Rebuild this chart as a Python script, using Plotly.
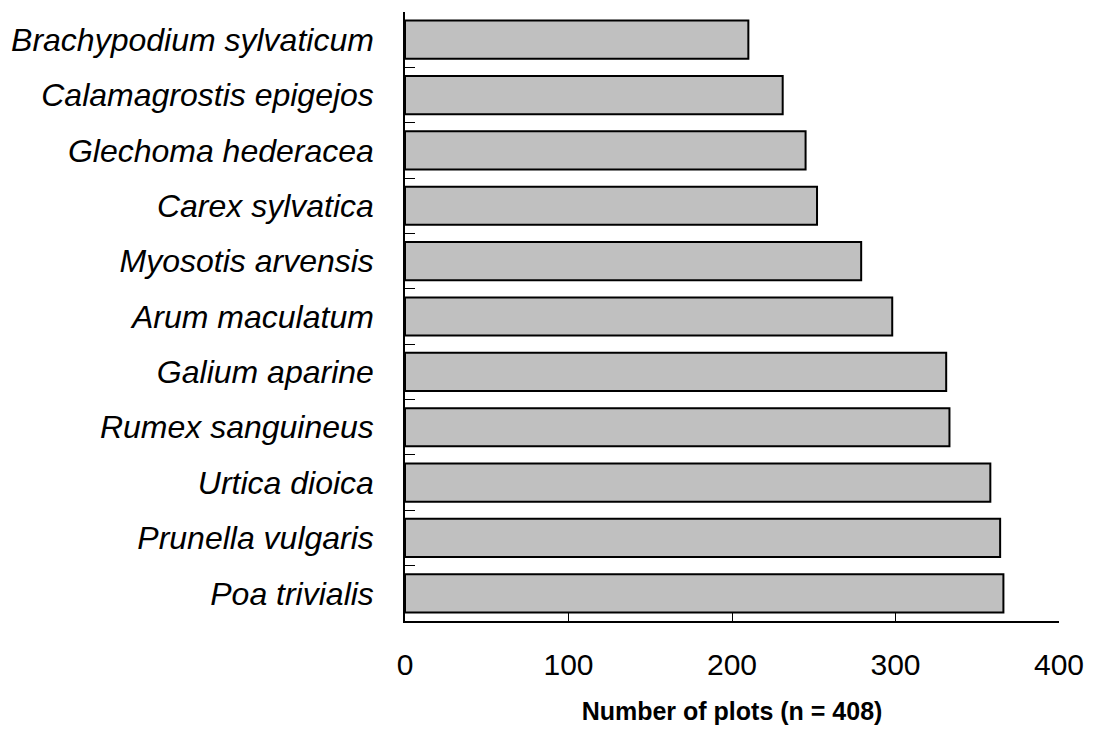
import plotly.graph_objects as go

species = [
    "Brachypodium sylvaticum",
    "Calamagrostis epigejos",
    "Glechoma hederacea",
    "Carex sylvatica",
    "Myosotis arvensis",
    "Arum maculatum",
    "Galium aparine",
    "Rumex sanguineus",
    "Urtica dioica",
    "Prunella vulgaris",
    "Poa trivialis",
]
counts = [210, 231, 245, 252, 279, 298, 331, 333, 358, 364, 366]
x_ticks = [0, 100, 200, 300, 400]

FONT = "Liberation Sans, Arial, sans-serif"

fig = go.Figure(
    go.Bar(
        x=counts,
        y=species,
        orientation="h",
        marker=dict(color="#c0c0c0", line=dict(color="black", width=2)),
    )
)

# page body has an 8px default margin, so the figure is sized to fit
fig.update_layout(
    width=1085,
    height=723,
    margin=dict(l=397, r=34, t=4, b=110),
    paper_bgcolor="white",
    plot_bgcolor="white",
    bargap=0.31,
    showlegend=False,
    font=dict(family=FONT, color="black"),
)

fig.update_xaxes(
    range=[0, 400],
    tickvals=x_ticks,
    ticktext=[str(v) for v in x_ticks],
    automargin=False,
    showgrid=False,
    zeroline=False,
    showline=True,
    linecolor="black",
    linewidth=1.5,
    ticks="inside",
    ticklen=8,
    tickwidth=1,
    tickcolor="black",
    tickfont=dict(family=FONT, size=30, color="black"),
    ticklabelstandoff=16,
    title=dict(
        text="<b>Number of plots (n = 408)</b>",
        font=dict(family=FONT, size=25, color="black"),
        standoff=23,
    ),
)

fig.update_yaxes(
    type="category",
    categoryorder="array",
    categoryarray=species,
    range=[10.5, -0.5],
    automargin=False,
    showgrid=False,
    zeroline=False,
    showline=True,
    linecolor="black",
    linewidth=1.5,
    ticks="inside",
    tickson="boundaries",
    ticklen=10,
    tickwidth=1,
    tickcolor="black",
    tickfont=dict(family=FONT, size=32, color="black", style="italic"),
    ticklabelstandoff=23,
)

fig.write_html("out.html")
